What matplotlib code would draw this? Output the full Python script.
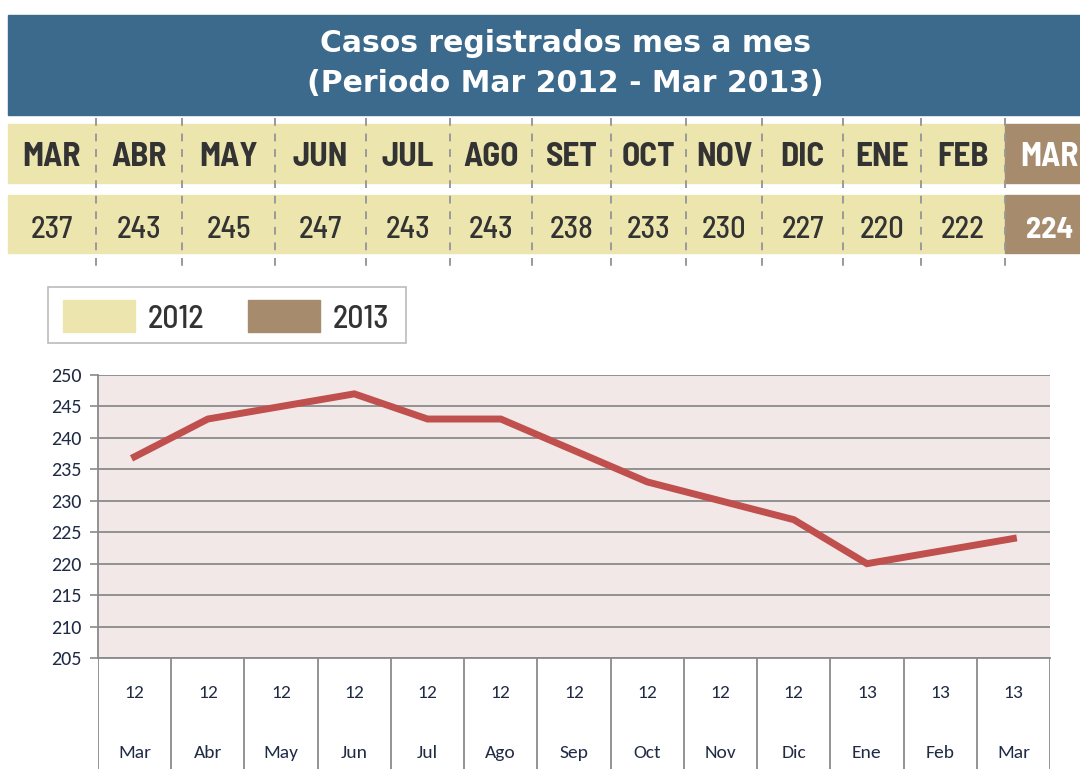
import matplotlib
matplotlib.use("Agg")
import matplotlib.pyplot as plt
from matplotlib.patches import Rectangle

# data
months_head = ["MAR", "ABR", "MAY", "JUN", "JUL", "AGO", "SET", "OCT", "NOV", "DIC", "ENE", "FEB", "MAR"]
cases = [237, 243, 245, 247, 243, 243, 238, 233, 230, 227, 220, 222, 224]
years = ["12", "12", "12", "12", "12", "12", "12", "12", "12", "12", "13", "13", "13"]
months_axis = ["Mar", "Abr", "May", "Jun", "Jul", "Ago", "Sep", "Oct", "Nov", "Dic", "Ene", "Feb", "Mar"]
legend_labels = ["2012", "2013"]
yticks = [205, 210, 215, 220, 225, 230, 235, 240, 245, 250]

c_2012 = "#ECE6AE"
c_2013 = "#A68B6D"
c_title = "#3B6A8C"
c_line = "#C0504D"
c_grid = "#8A8A8A"
narrow = ["Barlow Semi Condensed", "DejaVu Sans"]
calib = ["Carlito", "Lato", "DejaVu Sans"]

W, H = 1080, 769
fig = plt.figure(figsize=(W / 100, H / 100), dpi=100)

# overlay in pixel coords for the header
ov = fig.add_axes([0, 0, 1, 1])
ov.set_xlim(0, W)
ov.set_ylim(H, 0)
ov.axis("off")

ov.add_patch(Rectangle((8, 15), W - 8, 100, color=c_title))
ov.text(565, 44, "Casos registrados mes a mes", color="white", fontsize=21.5,
        fontweight="heavy", ha="center", va="center")
ov.text(565, 84, "(Periodo Mar 2012 - Mar 2013)", color="white", fontsize=21.5,
        fontweight="heavy", ha="center", va="center")

col_edges = [8, 96, 182, 275, 366, 450, 532, 611, 686, 762, 843, 921, 1005, 1095]
rows = [(124, 183), (195, 253)]
for r, (y0, y1) in enumerate(rows):
    for i in range(len(months_head)):
        x0, x1 = col_edges[i], col_edges[i + 1]
        last = i == len(months_head) - 1
        ov.add_patch(Rectangle((x0, y0), x1 - x0, y1 - y0,
                               color=c_2013 if last else c_2012))
        cx = (x0 + x1) / 2
        if last:
            cx = 1050
        if r == 0:
            ov.text(cx, (y0 + y1) / 2 + 4, months_head[i], family=narrow, fontsize=24,
                    fontweight="bold", color="white" if last else "#333333",
                    ha="center", va="center")
        else:
            ov.text(cx, (y0 + y1) / 2 + 6, str(cases[i]), family=narrow, fontsize=22,
                    fontweight="bold" if last else "medium",
                    color="white" if last else "#333333", ha="center", va="center")

for x in col_edges[1:-1]:
    ov.plot([x, x], [118, 272], color="#999999", lw=1.4, ls=(0, (4, 4)))

# legend box
ov.add_patch(Rectangle((48, 287), 358, 56, fill=False, ec="#BBBBBB", lw=1.2))
for x0, lab, col in [(63, legend_labels[0], c_2012), (248, legend_labels[1], c_2013)]:
    ov.add_patch(Rectangle((x0, 300), 72, 32, color=col))
    ov.text(x0 + 85, 319, lab, family=narrow, fontsize=23, fontweight="medium",
            color="#333333", ha="left", va="center")

# line chart
L, R, T, B = 98, 1050, 375, 658
ax = fig.add_axes([L / W, 1 - B / H, (R - L) / W, (B - T) / H])
ax.set_facecolor("#F2E8E8")
x = list(range(len(cases)))
ax.plot(x, cases, color=c_line, lw=5, solid_joinstyle="miter", zorder=3)
ax.set_xlim(-0.5, len(cases) - 0.5)
ax.set_ylim(205, 250)
ax.set_yticks(yticks)
ax.set_yticklabels([str(v) for v in yticks], family=calib, fontsize=14.5,
                   fontweight="medium", color="#1F2A44")
ax.tick_params(axis="y", length=6, width=1.2, color=c_grid, pad=6)
ax.set_xticks([])
ax.grid(axis="y", color=c_grid, lw=1.3)
for s in ["top", "right"]:
    ax.spines[s].set_visible(False)
for s in ["left", "bottom"]:
    ax.spines[s].set_color(c_grid)
    ax.spines[s].set_linewidth(1.3)

# category table below
tb = fig.add_axes([L / W, 0, (R - L) / W, (H - B) / H])
tb.set_xlim(-0.5, len(cases) - 0.5)
tb.set_ylim(0, H - B)
tb.axis("off")
for i in range(len(cases) + 1):
    tb.plot([i - 0.5, i - 0.5], [0, H - B], color=c_grid, lw=1.3)
for i in range(len(cases)):
    tb.text(i, H - B - 35, years[i], family=calib, fontsize=14, fontweight="medium",
            color="#1F2A44", ha="center", va="center")
    tb.text(i, H - B - 95, months_axis[i], family=calib, fontsize=14, fontweight="medium",
            color="#1F2A44", ha="center", va="center")

fig.savefig("out.png", dpi=100, facecolor="white")
